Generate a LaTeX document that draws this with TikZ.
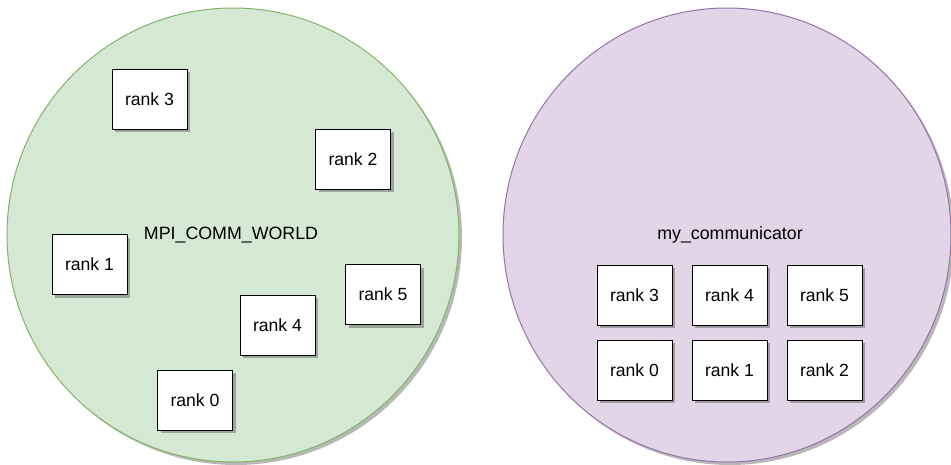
\documentclass[tikz,border=0pt]{standalone}
\usepackage{fontspec}
\setmainfont{Liberation Sans}
\usetikzlibrary{shadows,shapes.geometric}
\definecolor{worldfill}{HTML}{D5E8D4}
\definecolor{worlddraw}{HTML}{82B366}
\definecolor{commfill}{HTML}{E1D5E7}
\definecolor{commdraw}{HTML}{9673A6}
\tikzset{
  shade3/.style={drop shadow={shadow xshift=3pt, shadow yshift=-3pt, opacity=0.28, fill=black}},
  rankbox/.style={draw=black, line width=1pt, fill=white, minimum width=75pt, minimum height=60pt,
    inner sep=0pt, shade3, font=\fontsize{17.6}{20}\selectfont},
  group/.style={ellipse, line width=1pt, inner sep=0pt, shade3},
  label/.style={font=\fontsize{17.8}{20}\selectfont, inner sep=0pt}
}
\begin{document}
\begin{tikzpicture}[x=1pt, y=-1pt]
\useasboundingbox (0,0) rectangle (951,464);
% MPI_COMM_WORLD group
\node[group, draw=worlddraw, fill=worldfill, minimum width=452pt, minimum height=454pt] (world) at (233,235) {};
\node[label] (worldlabel) at (231,235) {MPI\_COMM\_WORLD};
\node[rankbox] (w3) at (149.5,99) {rank 3};
\node[rankbox] (w2) at (353,159) {rank 2};
\node[rankbox] (w1) at (89.5,264.5) {rank 1};
\node[rankbox] (w5) at (383,294.5) {rank 5};
\node[rankbox] (w4) at (277.5,325) {rank 4};
\node[rankbox] (w0) at (195,400) {rank 0};
% my_communicator group
\node[group, draw=commdraw, fill=commfill, minimum width=448pt, minimum height=454pt] (comm) at (727,235) {};
\node[label] (commlabel) at (730,235) {my\_communicator};
\node[rankbox] (c3) at (634.5,295) {rank 3};
\node[rankbox] (c4) at (729.5,295) {rank 4};
\node[rankbox] (c5) at (824.5,295) {rank 5};
\node[rankbox] (c0) at (634.5,370) {rank 0};
\node[rankbox] (c1) at (729.5,370) {rank 1};
\node[rankbox] (c2) at (824.5,370) {rank 2};
\end{tikzpicture}
\end{document}
